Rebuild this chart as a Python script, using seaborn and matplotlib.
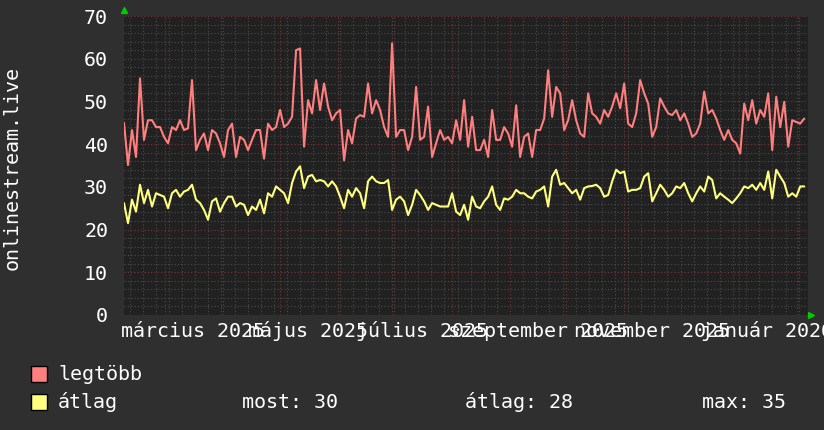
import numpy as np
import pandas as pd
import matplotlib
matplotlib.use("Agg")
import matplotlib.pyplot as plt
import matplotlib.dates as mdates
from matplotlib.ticker import MultipleLocator
from matplotlib.patches import Rectangle
import seaborn as sns

# --- adatok (egy év, kb. kétnaponta) ---
legtobb = [
    45.0, 35.1, 43.3, 37.0, 55.4, 41.0, 45.6, 45.6, 44.0, 44.0, 41.7, 40.2, 44.0, 43.3,
    45.6, 43.3, 43.7, 55.0, 38.6, 41.0, 42.5, 38.6, 43.3, 42.5, 40.2, 37.0, 43.3, 44.8,
    37.0, 41.7, 41.0, 38.6, 41.0, 43.3, 43.3, 36.6, 44.8, 43.3, 44.0, 48.0, 44.0, 44.8,
    46.4, 62.0, 62.4, 39.4, 50.3, 47.2, 55.0, 48.0, 54.2, 48.8, 45.6, 47.2, 48.0, 36.2, 43.3,
    40.2, 46.0, 46.8, 46.4, 54.2, 47.2, 50.3, 48.0, 44.0, 41.7, 63.6, 41.7, 43.3, 43.3,
    38.6, 41.7, 53.4, 41.0, 41.7, 48.8, 37.0, 40.2, 43.3, 41.0, 41.7, 40.2, 45.6, 41.0,
    50.3, 39.4, 46.4, 38.6, 38.6, 41.0, 37.0, 48.0, 41.0, 41.0, 44.0, 42.5, 39.4, 49.1,
    37.0, 41.7, 42.5, 37.0, 43.3, 43.3, 46.0, 57.3, 46.4, 53.4, 51.9, 43.3, 45.6, 50.3, 45.6,
    42.5, 41.7, 51.9, 47.2, 46.4, 44.8, 48.0, 46.4, 48.8, 51.9, 48.4, 54.2, 44.8, 44.0,
    47.2, 55.0, 51.9, 49.5, 41.7, 44.0, 50.7, 48.8, 47.2, 46.8, 48.0, 45.6, 47.2, 44.8,
    41.7, 42.5, 44.8, 52.3, 47.2, 48.0, 46.0, 43.3, 41.0, 43.3, 41.0, 40.2, 37.8, 49.5,
    45.6, 50.3, 44.8, 48.0, 46.4, 51.9, 38.6, 51.1, 44.0, 49.9, 39.4, 45.6, 45.2, 44.8, 46.0,
]
atlag = [
    26.2, 21.5, 27.0, 24.2, 30.5, 26.2, 29.3, 25.4, 28.5, 28.1, 27.7, 25.0, 28.5, 29.3,
    27.7, 28.9, 29.3, 30.5, 27.0, 26.2, 24.6, 22.3, 26.6, 27.3, 24.2, 26.2, 27.7, 27.7,
    25.4, 26.2, 25.8, 23.4, 25.4, 24.6, 27.0, 23.8, 28.5, 27.7, 30.1, 29.3, 28.5, 26.2,
    30.9, 33.6, 34.8, 29.7, 32.4, 32.8, 31.3, 31.6, 31.3, 30.1, 31.3, 30.1, 27.7, 25.0, 29.3,
    27.7, 29.7, 28.5, 25.0, 31.3, 32.4, 31.3, 30.9, 30.9, 31.6, 24.6, 27.0, 27.7, 26.6,
    23.4, 25.8, 29.3, 28.1, 26.6, 24.6, 26.2, 25.8, 25.4, 25.4, 25.4, 28.5, 24.2, 23.4,
    25.8, 22.3, 27.7, 25.4, 25.0, 26.6, 27.7, 30.1, 25.8, 24.6, 27.3, 27.0, 27.7, 29.3,
    28.5, 28.5, 27.7, 27.3, 28.9, 29.3, 30.1, 25.4, 32.4, 34.0, 30.5, 30.9, 29.7, 28.5, 29.3,
    27.0, 29.7, 30.1, 30.2, 30.5, 29.7, 27.7, 28.1, 31.3, 34.0, 33.2, 33.6, 28.9, 29.3,
    29.3, 29.7, 32.4, 33.2, 26.6, 28.5, 30.5, 29.3, 27.7, 28.5, 30.1, 29.7, 30.9, 28.5,
    26.6, 28.5, 30.1, 28.9, 32.4, 31.6, 27.3, 28.5, 27.7, 27.0, 26.2, 27.3, 28.5, 30.1,
    29.7, 30.5, 29.3, 30.9, 29.3, 33.6, 27.3, 34.0, 32.4, 30.9, 27.7, 28.5, 27.7, 30.1, 30.1,
]
honap_cimkek = ["március 2025", "május 2025", "július 2025",
                "szeptember 2025", "november 2025", "január 2026"]
cimke_datumok = ["2025-03-16", "2025-05-16", "2025-07-16",
                 "2025-09-16", "2025-11-16", "2026-01-16"]

datumok = pd.date_range("2025-02-07", "2026-02-05", periods=len(legtobb))
df = pd.DataFrame({"datum": datumok, "legtöbb": legtobb, "átlag": atlag})

BG = "#2f2f2f"
CANVAS = "#212121"
PIROS = "#ff7f7f"
SARGA = "#ffff7f"
FS = 14.4

sns.set_style("dark", {"axes.facecolor": CANVAS, "figure.facecolor": BG})
plt.rcParams["font.family"] = ["DejaVu Sans Mono"]

fig = plt.figure(figsize=(8.24, 4.30), dpi=100, facecolor=BG)
ax = fig.add_axes([124 / 824, 115 / 430, 684 / 824, 299 / 430])
ax.set_facecolor(CANVAS)

sns.lineplot(data=df, x="datum", y="legtöbb", color=PIROS, lw=1.5, estimator=None, ax=ax)
sns.lineplot(data=df, x="datum", y="átlag", color=SARGA, lw=1.5, estimator=None, ax=ax)

ax.set_xlim(pd.Timestamp("2025-02-07"), pd.Timestamp("2026-02-07"))
ax.set_ylim(0, 70)
ax.set_xlabel("")
ax.set_ylabel("")

# rács: havi / heti, 10-es / 2-es
ax.xaxis.set_major_locator(mdates.MonthLocator())
ax.xaxis.set_minor_locator(mdates.WeekdayLocator(byweekday=mdates.MO))
ax.yaxis.set_major_locator(MultipleLocator(10))
ax.yaxis.set_minor_locator(MultipleLocator(2))
ax.set_axisbelow(True)
ax.grid(which="minor", color="#4c4c4c", linestyle=(0, (1, 2)), lw=0.8)
ax.grid(which="major", color="#7a3636", linestyle=(0, (1, 2)), lw=0.8)
ax.tick_params(axis="x", which="both", length=0, labelbottom=False)
ax.tick_params(axis="y", which="both", length=0, pad=11.5, labelsize=FS, labelcolor="white")
for s in ax.spines.values():
    s.set_visible(False)

for d, lab in zip(cimke_datumok, honap_cimkek):
    ax.text(mdates.date2num(pd.Timestamp(d)), -0.054, lab, transform=ax.get_xaxis_transform(),
            ha="center", va="center", fontsize=FS, color="white")

# zöld nyilak a tengelyek végén
ax.plot([0], [1.02], marker="^", color="#00cc00", ms=5, transform=ax.transAxes, clip_on=False)
ax.plot([1.005], [0], marker=">", color="#00cc00", ms=5, transform=ax.transAxes, clip_on=False)

fig.text(12 / 824, 1 - 168 / 430, "onlinestream.live", rotation=90, ha="center", va="center",
         fontsize=FS, color="white")

# jelmagyarázat
for y_px, col in [(382, PIROS), (410, SARGA)]:
    fig.add_artist(Rectangle((31 / 824, 1 - y_px / 430), 16 / 824, 16 / 430,
                             transform=fig.transFigure, facecolor=col, edgecolor="black", lw=1))
most = atlag[-1]
atl = np.mean(atlag)
mx = max(atlag)
fig.text(58 / 824, 1 - 374 / 430, "legtöbb", va="center", fontsize=FS, color="white")
fig.text(58 / 824, 1 - 402 / 430, "átlag", va="center", fontsize=FS, color="white")
fig.text(242 / 824, 1 - 402 / 430, f"most: {most:.0f}", va="center", fontsize=FS, color="white")
fig.text(465 / 824, 1 - 402 / 430, f"átlag: {atl:.0f}", va="center", fontsize=FS, color="white")
fig.text(702 / 824, 1 - 402 / 430, f"max: {mx:.0f}", va="center", fontsize=FS, color="white")

fig.savefig("out.png", dpi=100, facecolor=BG)
